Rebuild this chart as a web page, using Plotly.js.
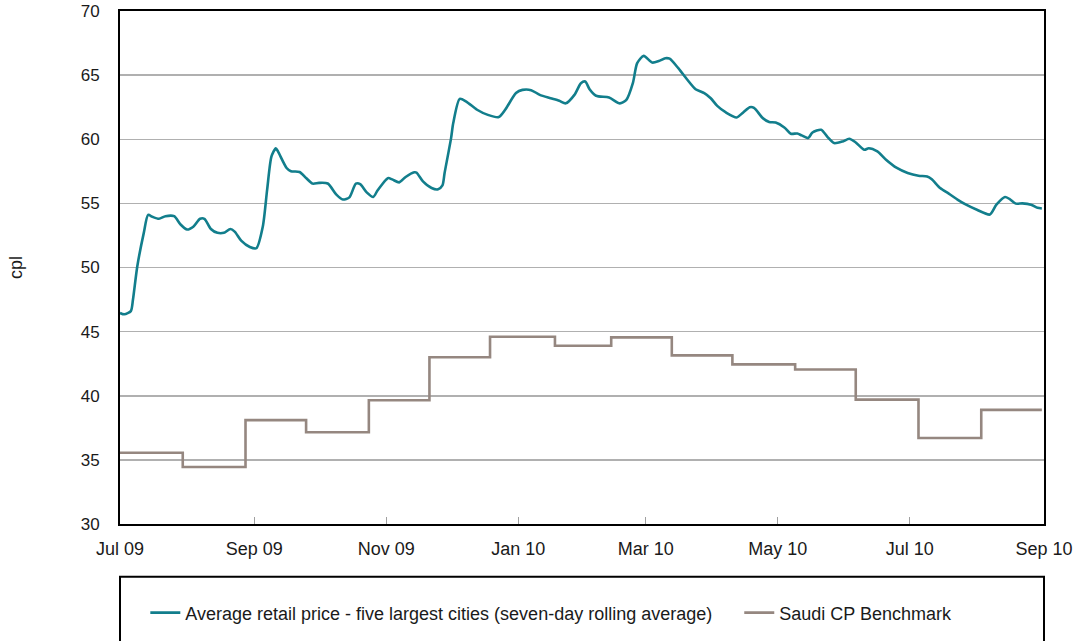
<!DOCTYPE html>
<html>
<head>
<meta charset="utf-8">
<script src="https://cdn.plot.ly/plotly-3.0.1.min.js"></script>
<style>
  html, body { margin: 0; padding: 0; background: #fff; }
  #chart { width: 1077px; height: 641px; }
</style>
</head>
<body>
<div id="chart"></div>
<script>
// Average retail price - five largest cities (seven-day rolling average), cpl
const retailDates = [
  "2009-07-01","2009-07-03","2009-07-06","2009-07-07","2009-07-09","2009-07-12","2009-07-14","2009-07-16",
  "2009-07-19","2009-07-22","2009-07-26","2009-07-29","2009-08-01","2009-08-04","2009-08-07","2009-08-09",
  "2009-08-12","2009-08-15","2009-08-18","2009-08-21","2009-08-23","2009-08-26","2009-08-30","2009-09-02",
  "2009-09-05","2009-09-07","2009-09-09","2009-09-11","2009-09-12","2009-09-16","2009-09-18","2009-09-22",
  "2009-09-25","2009-09-28","2009-10-01","2009-10-05","2009-10-09","2009-10-12","2009-10-15","2009-10-18",
  "2009-10-20","2009-10-23","2009-10-26","2009-10-28","2009-11-01","2009-11-02","2009-11-04","2009-11-07",
  "2009-11-10","2009-11-14","2009-11-15","2009-11-18","2009-11-22","2009-11-25","2009-11-27","2009-11-28",
  "2009-12-01","2009-12-02","2009-12-05","2009-12-08","2009-12-13","2009-12-18","2009-12-23","2009-12-26",
  "2009-12-31","2010-01-03","2010-01-07","2010-01-11","2010-01-16","2010-01-20","2010-01-23","2010-01-27",
  "2010-01-30","2010-02-01","2010-02-03","2010-02-06","2010-02-12","2010-02-17","2010-02-20","2010-02-23",
  "2010-02-25","2010-02-28","2010-03-04","2010-03-07","2010-03-10","2010-03-12","2010-03-16","2010-03-20",
  "2010-03-24","2010-03-28","2010-03-31","2010-04-03","2010-04-07","2010-04-12","2010-04-15","2010-04-18",
  "2010-04-20","2010-04-24","2010-04-27","2010-04-30","2010-05-04","2010-05-07","2010-05-10","2010-05-12",
  "2010-05-15","2010-05-17","2010-05-21","2010-05-24","2010-05-27","2010-05-31","2010-06-03","2010-06-06",
  "2010-06-10","2010-06-12","2010-06-16","2010-06-20","2010-06-25","2010-06-30","2010-07-05","2010-07-09",
  "2010-07-11","2010-07-15","2010-07-19","2010-07-23","2010-07-27","2010-08-01","2010-08-07","2010-08-10",
  "2010-08-14","2010-08-16","2010-08-19","2010-08-22","2010-08-26","2010-08-29","2010-08-31"
];
const retailValues = [
  46.45, 46.35, 46.6, 47.5, 50.1, 52.7, 54.1, 53.95,
  53.8, 54.0, 54.0, 53.35, 52.96, 53.2, 53.8, 53.8,
  53.0, 52.7, 52.7, 53.0, 52.8, 52.1, 51.6, 51.5,
  53.2, 56.07, 58.66, 59.3, 59.05, 57.76, 57.5, 57.45,
  56.98, 56.54, 56.6, 56.55, 55.68, 55.3, 55.47, 56.54,
  56.5, 55.86, 55.5, 56.0, 56.85, 56.98, 56.85, 56.64,
  57.06, 57.42, 57.4, 56.72, 56.2, 56.1, 56.4, 57.37,
  60.09, 61.26, 63.15, 62.94, 62.3, 61.9, 61.73, 62.3,
  63.6, 63.85, 63.83, 63.46, 63.2, 63.0, 62.8, 63.46,
  64.37, 64.5, 63.9, 63.39, 63.25, 62.8, 63.07, 64.37,
  65.93, 66.5, 65.98, 66.1, 66.32, 66.28, 65.54, 64.68,
  63.9, 63.6, 63.2, 62.6, 62.09, 61.7, 62.09, 62.5,
  62.45, 61.65, 61.34, 61.3, 60.92, 60.43, 60.45, 60.3,
  60.09, 60.53, 60.74, 60.17, 59.7, 59.83, 60.04, 59.75,
  59.18, 59.3, 59.05, 58.4, 57.76, 57.37, 57.16, 57.1,
  56.9, 56.2, 55.76, 55.3, 54.9, 54.5, 54.13, 54.9,
  55.5, 55.35, 54.98, 55.0, 54.9, 54.65, 54.6
];

// Saudi CP Benchmark, cpl (level effective from each date)
const saudiDates = [
  "2009-07-01","2009-07-30","2009-08-28","2009-09-25","2009-10-24","2009-11-21","2009-12-19","2010-01-18",
  "2010-02-13","2010-03-13","2010-04-10","2010-05-09","2010-06-06","2010-07-05","2010-08-03","2010-08-31"
];
const saudiValues = [
  35.55, 34.45, 38.1, 37.15, 39.65, 43.0, 44.6, 43.9,
  44.55, 43.15, 42.45, 42.05, 39.7, 36.7, 38.9, 38.9
];

const tickDates = ["2009-07-01","2009-09-01","2009-11-01","2010-01-01","2010-03-01","2010-05-01","2010-07-01","2010-09-01"];
const tickLabels = ["Jul 09","Sep 09","Nov 09","Jan 10","Mar 10","May 10","Jul 10","Sep 10"];
const yTicks = [30, 35, 40, 45, 50, 55, 60, 65, 70];
const seriesNames = ["Average retail price - five largest cities (seven-day rolling average)", "Saudi CP Benchmark"];

const FONT = "Liberation Sans, Arial, sans-serif";

const traces = [
  {
    x: retailDates, y: retailValues, name: seriesNames[0], type: "scatter", mode: "lines",
    line: { color: "#127e8c", width: 2.6, shape: "spline", smoothing: 0.7 },
    legend: "legend", hoverinfo: "skip"
  },
  {
    x: saudiDates, y: saudiValues, name: seriesNames[1], type: "scatter", mode: "lines",
    line: { color: "#958780", width: 2.6, shape: "hv" },
    legend: "legend2", hoverinfo: "skip"
  }
];

const legendBase = {
  orientation: "h", xanchor: "left", y: -0.171, yanchor: "middle",
  font: { family: FONT, size: 18, color: "#1a1a1a" },
  bgcolor: "rgba(0,0,0,0)", borderwidth: 0
};

const layout = {
  width: 1077, height: 641,
  margin: { l: 120, r: 33, t: 11, b: 116 },
  paper_bgcolor: "#ffffff", plot_bgcolor: "#ffffff",
  font: { family: FONT, size: 17, color: "#1a1a1a" },
  showlegend: true,
  legend: Object.assign({}, legendBase, { x: 0.0274 }),
  legend2: Object.assign({}, legendBase, { x: 0.6702 }),
  xaxis: {
    type: "date",
    range: ["2009-07-01", "2010-09-01"],
    tickmode: "array", tickvals: tickDates, ticktext: tickLabels,
    ticks: "inside", ticklen: 7, tickcolor: "#a0a0a0", tickwidth: 1,
    showgrid: false, zeroline: false,
    showline: true, linecolor: "#000000", linewidth: 2, mirror: true,
    ticklabelstandoff: 7,
    tickfont: { family: FONT, size: 18, color: "#1a1a1a" }
  },
  yaxis: {
    range: [30, 70], tickmode: "array", tickvals: yTicks,
    ticks: "", showgrid: true, gridcolor: "#b0b0b0", gridwidth: 1.5,
    zeroline: false, showline: true, linecolor: "#000000", linewidth: 2, mirror: true,
    ticklabelstandoff: 15,
    tickfont: { family: FONT, size: 17, color: "#1a1a1a" },
    title: { text: "cpl", standoff: 53, font: { family: FONT, size: 18, color: "#1a1a1a" } },
    automargin: false
  },
  shapes: [
    {
      type: "rect", xref: "paper", yref: "paper",
      x0: 0, x1: 1, y0: -0.103, y1: -0.3,
      line: { color: "#000000", width: 2 }, fillcolor: "rgba(0,0,0,0)", layer: "below"
    }
  ]
};

Plotly.newPlot("chart", traces, layout, { staticPlot: true, displayModeBar: false });
</script>
</body>
</html>
